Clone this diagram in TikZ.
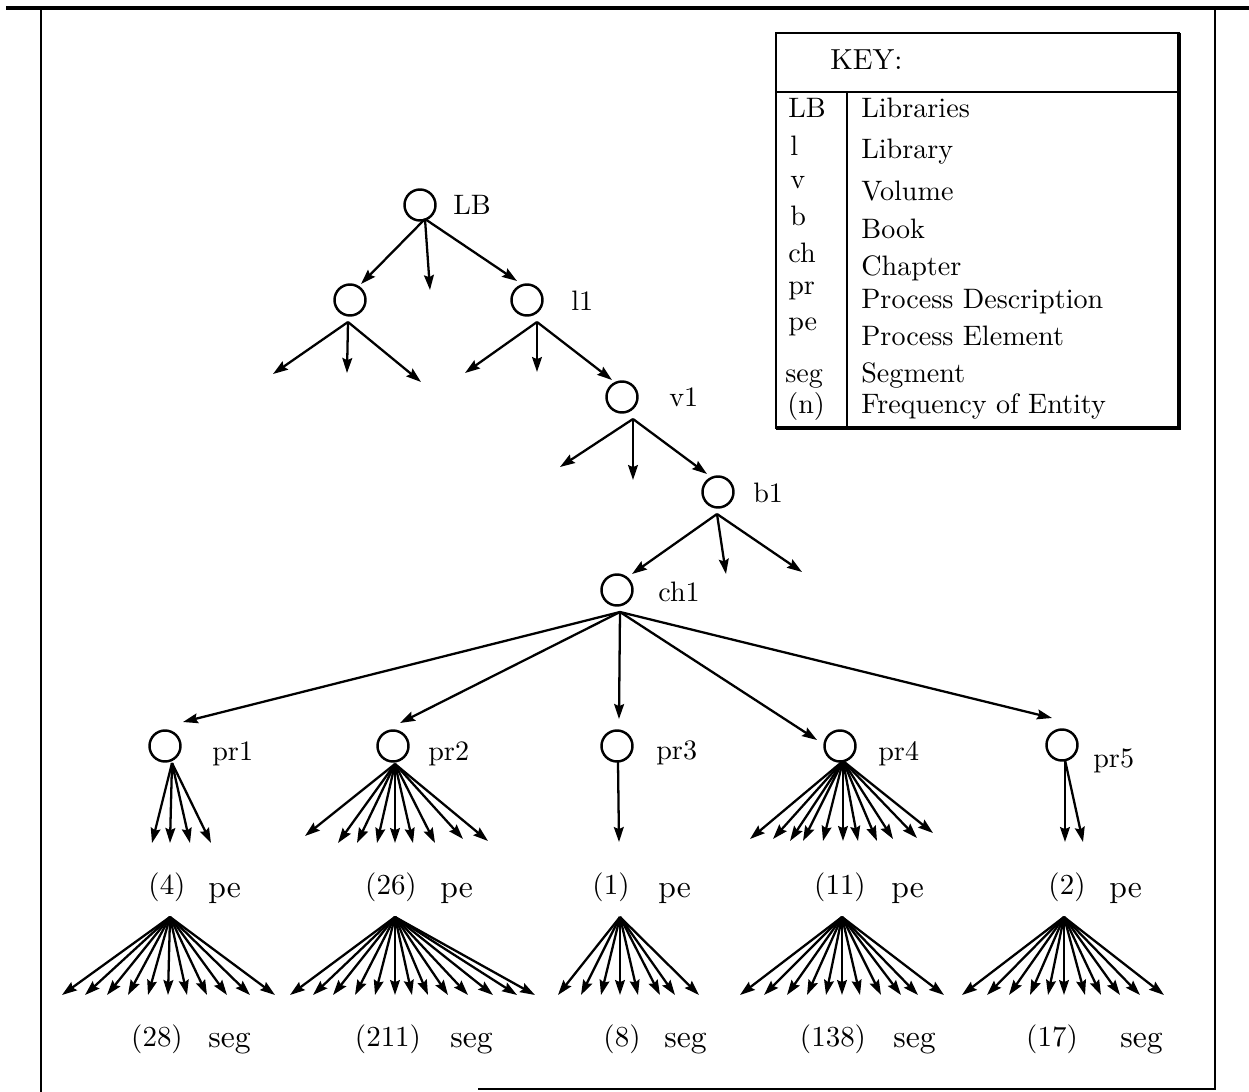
\documentclass[tikz,border=0pt]{standalone}
\usepackage{fontspec}
\setmainfont{lmroman10-regular.otf}
\usetikzlibrary{arrows.meta,calc}
\begin{document}
\begin{tikzpicture}[x=0.02cm,y=-0.02cm,
 circ/.style={circle,draw,line width=1.4pt,minimum size=0.62cm,inner sep=0pt},
 arr/.style={line width=1.3pt,-{Stealth[length=8.5pt,width=5.6pt,inset=1.2pt]}},
 lab/.style={anchor=base west,inner sep=0pt,font=\fontsize{16}{19}\selectfont},
 cnt/.style={anchor=base,inner sep=0pt,font=\fontsize{16.5}{20}\selectfont},
 unitl/.style={anchor=base west,inner sep=0pt,font=\fontsize{18}{21}\selectfont},
 bord/.style={line width=1.6pt},
]
\useasboundingbox (0,0) rectangle (1249,1092);

% frame
\draw[line width=2.8pt] (6,8) -- (1249,8);
\draw[bord] (41,8) -- (41,1092);
\draw[bord] (1215,8) -- (1215,1090);
\draw[line width=0.8pt] (478,1089) -- (1215,1089);

% key
\draw[line width=1.2pt] (776,33) rectangle (1179,428);
\draw[line width=2pt] (1179,33) -- (1179,428) -- (776,428);
\draw[line width=1.2pt] (776,92) -- (1179,92);
\draw[line width=1.6pt] (847,92) -- (847,428);
\node[lab,font=\fontsize{16.5}{20}\selectfont] (key) at (830,70) {KEY:};
\node[lab] (k1a) at (788,117) {LB};  \node[lab] (k1b) at (861,117) {Libraries};
\node[lab] (k2a) at (790,155) {l};   \node[lab] (k2b) at (861,158) {Library};
\node[lab] (k3a) at (790,188) {v};   \node[lab] (k3b) at (861,200) {Volume};
\node[lab] (k4a) at (790,225) {b};   \node[lab] (k4b) at (861,238) {Book};
\node[lab] (k5a) at (788,262) {ch};  \node[lab] (k5b) at (861,275) {Chapter};
\node[lab] (k6a) at (788,294) {pr};  \node[lab] (k6b) at (861,308) {Process Description};
\node[lab] (k7a) at (788,330) {pe};  \node[lab] (k7b) at (861,345) {Process Element};
\node[lab] (k8a) at (785,382) {seg}; \node[lab] (k8b) at (861,382) {Segment};
\node[lab] (k9a) at (787,413) {(n)}; \node[lab] (k9b) at (861,413) {Frequency of Entity};

% tree nodes
\node[circ] (LB) at (420,205) {};  \node[lab] (tLB) at (453,214) {LB};
\node[circ] (L0) at (350,300) {};
\node[circ] (l1) at (527,300) {};  \node[lab] (tl1) at (571,310) {l1};
\node[circ] (v1) at (622,397) {};  \node[lab] (tv1) at (669,406) {v1};
\node[circ] (b1) at (718,492) {};  \node[lab] (tb1) at (753,502) {b1};
\node[circ] (ch1) at (617,590) {}; \node[lab] (tch1) at (658,601) {ch1};
\node[circ] (pr1) at (165,746) {}; \node[lab] (tpr1) at (212,760) {pr1};
\node[circ] (pr2) at (393,746) {}; \node[lab] (tpr2) at (428,760) {pr2};
\node[circ] (pr3) at (617,746) {}; \node[lab] (tpr3) at (656,759) {pr3};
\node[circ] (pr4) at (840,746) {}; \node[lab] (tpr4) at (878,760) {pr4};
\node[circ] (pr5) at (1062,745) {};\node[lab] (tpr5) at (1093,767) {pr5};

% origins
\coordinate (LBo) at (425,219);
\coordinate (L0o) at (348,322);
\coordinate (l1o) at (537,322);
\coordinate (v1o) at (633,419);
\coordinate (b1o) at (717,514);
\coordinate (ch1o) at (620,612);
\coordinate (pr1o) at (172,763);
\coordinate (pr2o) at (395,764);
\coordinate (pr3o) at (618,762);
\coordinate (pr4o) at (843,761);
\coordinate (pr5o) at (1065,760);

% upper tree
\draw[arr] (LBo) -- ($(L0)+(11,-16)$);
\draw[arr] (LBo) -- (430,290);
\draw[arr] (LBo) -- ($(l1)+(-10,-19)$);
\draw[arr] (L0o) -- (273,374);
\draw[arr] (L0o) -- (347,373);
\draw[arr] (L0o) -- (421,382);
\draw[arr] (l1o) -- (465,373);
\draw[arr] (l1o) -- (537,372);
\draw[arr] (l1o) -- ($(v1)+(-10,-17)$);
\draw[arr] (v1o) -- (560,467);
\draw[arr] (v1o) -- (633,480);
\draw[arr] (v1o) -- ($(b1)+(-11,-18)$);
\draw[arr] (b1o) -- ($(ch1)+(15,-16)$);
\draw[arr] (b1o) -- (726,574);
\draw[arr] (b1o) -- (802,572);

% chapter to process descriptions
\draw[arr] (ch1o) -- ($(pr1)+(18,-24)$);
\draw[arr] (ch1o) -- ($(pr2)+(7,-23)$);
\draw[arr] (ch1o) -- ($(pr3)+(2,-27)$);
\draw[arr] (ch1o) -- ($(pr4)+(-23,-6)$);
\draw[arr] (ch1o) -- ($(pr5)+(-10,-27)$);

% process description fans
\foreach \x/\y in {152/843,170/843,190/843,211/843}
  \draw[arr] (pr1o) -- (\x,\y);
\foreach \x/\y in {305/836,338/843,357/843,377/843,395/843,413/843,435/843,463/839,488/841}
  \draw[arr] (pr2o) -- (\x,\y);
\draw[arr] (pr3o) -- (619,842);
\foreach \x/\y in {750/839,773/839,790/841,803/841,823/841,843/841,858/841,877/841,893/839,917/838,933/833}
  \draw[arr] (pr4o) -- (\x,\y);
\foreach \x/\y in {1065/842,1083/842}
  \draw[arr] (pr5o) -- (\x,\y);

% pe labels
\node[cnt] (c1) at (167,894) {(4)};   \node[unitl] (u1) at (208,897) {pe};
\node[cnt] (c2) at (391,894) {(26)};  \node[unitl] (u2) at (440,897) {pe};
\node[cnt] (c3) at (611,894) {(1)};   \node[unitl] (u3) at (658,897) {pe};
\node[cnt] (c4) at (840,894) {(11)};  \node[unitl] (u4) at (891,897) {pe};
\node[cnt] (c5) at (1067,894) {(2)};  \node[unitl] (u5) at (1109,897) {pe};

% pe fan apexes
\coordinate (f1) at (170,917);
\coordinate (f2) at (395,917);
\coordinate (f3) at (620,917);
\coordinate (f4) at (842,917);
\coordinate (f5) at (1064,917);

\foreach \x in {62,85,107,128,148,168,187,207,227,250,275}
  \draw[arr] (f1) -- (\x,995);
\foreach \x in {290,313,333,355,375,395,412,428,448,468,493,517,535}
  \draw[arr] (f2) -- (\x,995);
\foreach \x in {558,581,601,620,638,660,675,699}
  \draw[arr] (f3) -- (\x,995);
\foreach \x in {740,764,787,807,826,842,860,881,901,918,944}
  \draw[arr] (f4) -- (\x,995);
\foreach \x in {962,987,1009,1030,1048,1064,1085,1101,1120,1140,1164}
  \draw[arr] (f5) -- (\x,995);

% seg labels
\node[cnt] (s1) at (157,1046) {(28)};  \node[unitl] (v1s) at (208,1047) {seg};
\node[cnt] (s2) at (388,1046) {(211)}; \node[unitl] (v2s) at (450,1047) {seg};
\node[cnt] (s3) at (622,1046) {(8)};   \node[unitl] (v3s) at (664,1047) {seg};
\node[cnt] (s4) at (833,1046) {(138)}; \node[unitl] (v4s) at (893,1047) {seg};
\node[cnt] (s5) at (1052,1046) {(17)}; \node[unitl] (v5s) at (1120,1047) {seg};
\end{tikzpicture}
\end{document}
